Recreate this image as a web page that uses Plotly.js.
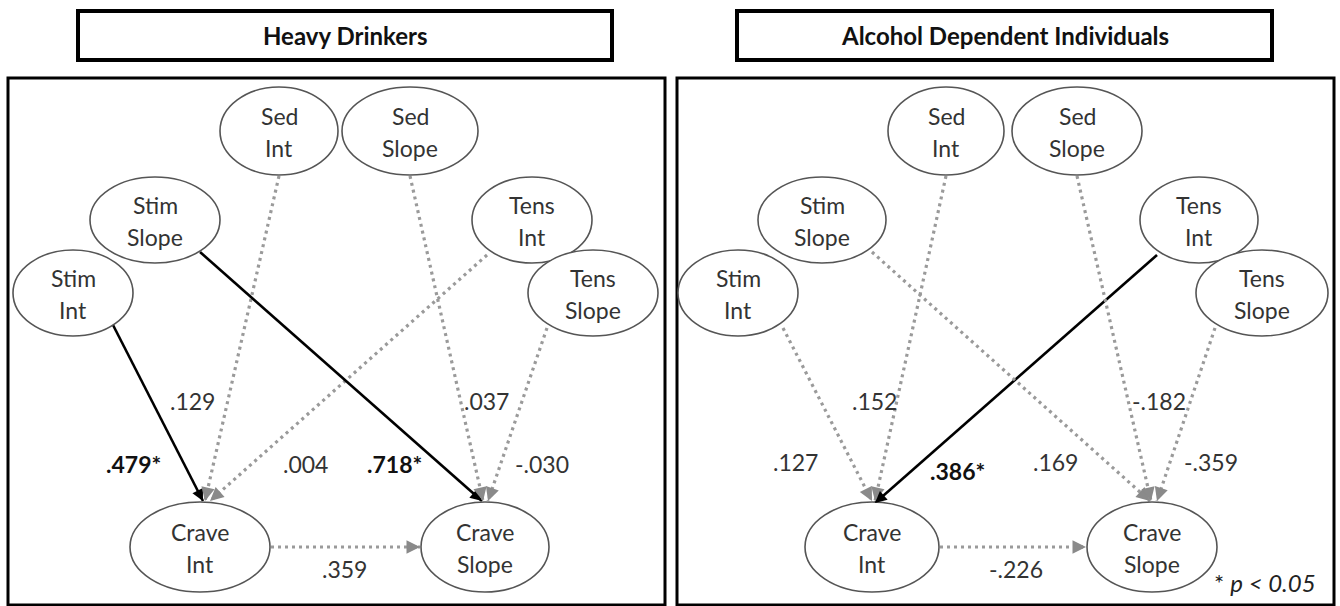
<!DOCTYPE html>
<html><head><meta charset="utf-8">
<script src="https://cdn.plot.ly/plotly-3.0.1.min.js"></script>
<style>html,body{margin:0;padding:0;background:#fff}#chart{width:1340px;height:606px}</style>
</head><body><div id="chart"></div>
<script>
// ---- data ----
const panelTitles = ["Heavy Drinkers", "Alcohol Dependent Individuals"];
const nodeIds = ["SedInt","SedSlope","StimSlope","StimInt","TensInt","TensSlope","CraveInt","CraveSlope"];
const nodeTop = ["Sed","Sed","Stim","Stim","Tens","Tens","Crave","Crave"];
const nodeBottom = ["Int","Slope","Slope","Int","Int","Slope","Int","Slope"];
const pathFrom = ["StimInt","SedInt","TensInt","StimSlope","SedSlope","TensSlope","CraveInt"];
const pathTo   = ["CraveInt","CraveInt","CraveInt","CraveSlope","CraveSlope","CraveSlope","CraveSlope"];
const heavyCoef = [0.479, 0.129, 0.004, 0.718, 0.037, -0.030, 0.359];
const heavySig  = [true, false, false, true, false, false, false];
const depCoef   = [0.127, 0.152, 0.386, 0.169, -0.182, -0.359, -0.226];
const depSig    = [false, false, true, false, false, false, false];
const footnote = "* <i>p < 0.05</i>";

// ---- geometry (layout only) ----
const geom = [
  { title:[78,612,11,60], box:[8,665,78,605],
    nodes:{SedInt:[279,131,59,44],SedSlope:[410,131,68,44],StimSlope:[155,220,65,43],StimInt:[73,293,60,43],
           TensInt:[532,220,60,43],TensSlope:[593,293,65,43],CraveInt:[200,547,70,45],CraveSlope:[485,547,64,45]},
    starts:[[113,325],[279,176],[487,255],[200,252],[410,176],[547,328],[271,547]],
    ends:[[203,501],[205,501],[210,501],[482,501],[483,501],[488,501],[420,547]],
    labels:[[133,464],[192,401],[305,464],[394,464],[486,401],[542,464],[344,569]] },
  { title:[737,1272,11,60], box:[677,1334,78,605],
    nodes:{SedInt:[946,131,58,44],SedSlope:[1077,131,65,44],StimSlope:[822,220,64,43],StimInt:[738,293,60,43],
           TensInt:[1199,220,59,43],TensSlope:[1262,293,66,43],CraveInt:[872,547,67,45],CraveSlope:[1152,547,65,45]},
    starts:[[783,328],[946,176],[1157,255],[872,252],[1077,176],[1215,328],[940,547]],
    ends:[[872,501],[875,501],[875,503],[1150,501],[1151,501],[1157,501],[1086,547]],
    labels:[[795,462],[874,401],[957,471],[1055,462],[1159,401],[1211,462],[1016,569]] }
];
const coefs = [heavyCoef, depCoef];
const sigs = [heavySig, depSig];

function fmt(v){ const s = Math.abs(v).toFixed(3).replace(/^0/, ""); return (v<0?"-":"")+s; }

const FONT = "Lato, 'Open Sans', sans-serif";
const traces = [], shapes = [], annotations = [];

geom.forEach((g, p) => {
  shapes.push({type:"rect", xref:"x", yref:"y", x0:g.title[0], x1:g.title[1], y0:g.title[2], y1:g.title[3],
               line:{color:"#000", width:4}, fillcolor:"#fff"});
  annotations.push({x:(g.title[0]+g.title[1])/2, y:(g.title[2]+g.title[3])/2, xref:"x", yref:"y",
                    text:"<b>"+panelTitles[p]+"</b>", showarrow:false, font:{family:FONT, size:24, color:"#111"}});
  shapes.push({type:"rect", xref:"x", yref:"y", x0:g.box[0], x1:g.box[1], y0:g.box[2], y1:g.box[3],
               line:{color:"#000", width:3}});
  pathFrom.forEach((f, i) => {
    const s = g.starts[i], e = g.ends[i], sig = sigs[p][i];
    const col = sig ? "#000" : "#9a9a9a";
    traces.push({x:[s[0], e[0]], y:[s[1], e[1]], mode:"lines", hoverinfo:"skip", showlegend:false,
                 line:{color:col, width: sig ? 2.6 : 3.2, dash: sig ? "solid" : "3px,4px"}});
    const dx = e[0]-s[0], dy = e[1]-s[1], L = Math.hypot(dx, dy);
    annotations.push({x:e[0], y:e[1], ax:e[0]-dx/L*9, ay:e[1]-dy/L*9, xref:"x", yref:"y", axref:"x", ayref:"y",
                      text:"", showarrow:true, arrowhead:2, arrowsize:0.9, arrowwidth: sig ? 2.6 : 3,
                      arrowcolor: sig ? "#000" : "#8a8a8a", standoff:0, startstandoff:0});
    const lb = g.labels[i];
    const txt = sig ? "<b>"+fmt(coefs[p][i])+"*</b>" : fmt(coefs[p][i]);
    annotations.push({x:lb[0], y:lb[1], xref:"x", yref:"y", text:txt, showarrow:false,
                      font:{family:FONT, size:23, color: sig ? "#111" : "#333"}});
  });
  nodeIds.forEach((id, k) => {
    const n = g.nodes[id];
    shapes.push({type:"circle", xref:"x", yref:"y", x0:n[0]-n[2], x1:n[0]+n[2], y0:n[1]-n[3], y1:n[1]+n[3],
                 line:{color:"#555", width:1.6}, fillcolor:"#fff"});
    annotations.push({x:n[0], y:n[1]-15, xref:"x", yref:"y", text:nodeTop[k], showarrow:false,
                      font:{family:FONT, size:23, color:"#333"}});
    annotations.push({x:n[0], y:n[1]+17, xref:"x", yref:"y", text:nodeBottom[k], showarrow:false,
                      font:{family:FONT, size:23, color:"#333"}});
  });
});
annotations.push({x:1265, y:582, xref:"x", yref:"y", text:footnote, showarrow:false,
                  font:{family:FONT, size:24, color:"#222"}});

const layout = {
  width:1340, height:606, margin:{l:0,r:0,t:0,b:0},
  paper_bgcolor:"#fff", plot_bgcolor:"#fff", showlegend:false,
  xaxis:{range:[0,1340], visible:false, fixedrange:true},
  yaxis:{range:[606,0], visible:false, fixedrange:true},
  shapes:shapes, annotations:annotations
};
Plotly.newPlot("chart", traces, layout, {staticPlot:true, displayModeBar:false});
</script></body></html>
